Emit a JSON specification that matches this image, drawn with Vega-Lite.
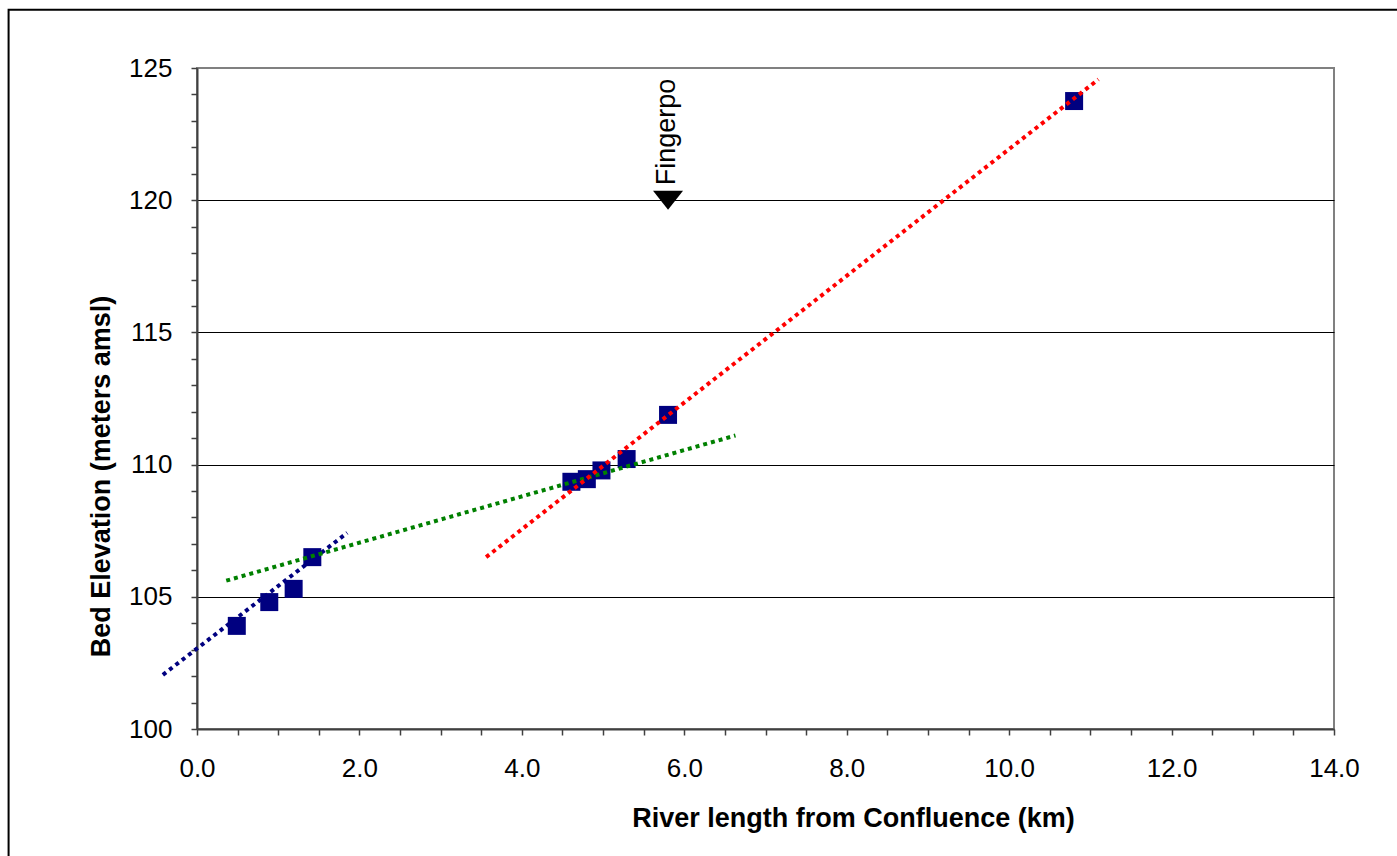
{
  "$schema": "https://vega.github.io/schema/vega-lite/v6.json",
  "width": 1137,
  "height": 661,
  "autosize": "none",
  "padding": {"left": 197, "top": 68, "right": 63, "bottom": 127},
  "background": "white",
  "config": {
    "view": {"stroke": "#808080", "strokeWidth": 2},
    "font": "Liberation Sans"
  },
  "datasets": {
    "points": [
      {"x": 0.49, "y": 103.9},
      {"x": 0.89, "y": 104.8},
      {"x": 1.19, "y": 105.3},
      {"x": 1.42, "y": 106.5},
      {"x": 4.61, "y": 109.35},
      {"x": 4.80, "y": 109.45},
      {"x": 4.98, "y": 109.78},
      {"x": 5.29, "y": 110.21},
      {"x": 5.80, "y": 111.88},
      {"x": 10.80, "y": 123.75}
    ],
    "trends": [
      {"trend": "a", "x": -0.42, "y": 102.05},
      {"trend": "a", "x": 1.85, "y": 107.42},
      {"trend": "b", "x": 0.36, "y": 105.61},
      {"trend": "b", "x": 6.63, "y": 111.10},
      {"trend": "c", "x": 3.56, "y": 106.5},
      {"trend": "c", "x": 11.10, "y": 124.57}
    ],
    "marker": [{"x": 5.8, "y": 120, "label": "Fingerpo"}],
    "frame": [{"x": -2.32, "x2": 20, "y": 127.2, "y2": 90}]
  },
  "encoding": {
    "x": {
      "field": "x",
      "type": "quantitative",
      "scale": {"domain": [0, 14], "nice": false, "zero": false},
      "axis": {
        "title": "River length from Confluence (km)",
        "values": [0, 0.5, 1, 1.5, 2, 2.5, 3, 3.5, 4, 4.5, 5, 5.5, 6, 6.5, 7, 7.5, 8, 8.5, 9, 9.5, 10, 10.5, 11, 11.5, 12, 12.5, 13, 13.5, 14],
        "labelExpr": "datum.value % 2 === 0 ? format(datum.value, '.1f') : ''",
        "grid": false,
        "domainColor": "#404040",
        "domainWidth": 2,
        "tickColor": "#404040",
        "tickWidth": 1.5,
        "tickSize": 6,
        "labelFontSize": 26,
        "labelColor": "black",
        "labelPadding": 20,
        "labelOverlap": false,
        "labelFlush": false,
        "titleFontSize": 27,
        "titleFontWeight": "bold",
        "titleColor": "black",
        "titleX": 656,
        "titleY": 89,
        "titleBaseline": "middle"
      }
    },
    "y": {
      "field": "y",
      "type": "quantitative",
      "scale": {"domain": [100, 125], "nice": false, "zero": false},
      "axis": {
        "title": "Bed Elevation (meters amsl)",
        "values": [100, 101, 102, 103, 104, 105, 106, 107, 108, 109, 110, 111, 112, 113, 114, 115, 116, 117, 118, 119, 120, 121, 122, 123, 124, 125],
        "labelExpr": "datum.value % 5 === 0 ? format(datum.value, 'd') : ''",
        "grid": true,
        "gridColor": "black",
        "gridWidth": 1,
        "gridOpacity": {"condition": {"test": "datum.value % 5 === 0 && datum.value > 100 && datum.value < 125", "value": 1}, "value": 0},
        "domainColor": "#404040",
        "domainWidth": 2,
        "tickColor": "#404040",
        "tickWidth": 1.5,
        "tickSize": 6,
        "labelFontSize": 26,
        "labelColor": "black",
        "labelPadding": 19,
        "labelOverlap": false,
        "labelFlush": false,
        "titleFontSize": 27,
        "titleFontWeight": "bold",
        "titleColor": "black",
        "titleX": -96,
        "titleY": 408,
        "titleBaseline": "middle"
      }
    }
  },
  "layer": [
    {
      "data": {"name": "frame"},
      "mark": {"type": "rect", "filled": false, "stroke": "black", "strokeWidth": 2, "clip": false},
      "encoding": {"x2": {"field": "x2"}, "y2": {"field": "y2"}}
    },
    {
      "data": {"name": "points"},
      "mark": {"type": "point", "shape": "square", "filled": true, "size": 324, "color": "#000080", "opacity": 1}
    },
    {
      "data": {"name": "trends"},
      "mark": {"type": "line", "strokeWidth": 4, "strokeDash": [4, 4], "strokeCap": "butt", "clip": false},
      "encoding": {
        "color": {
          "field": "trend",
          "type": "nominal",
          "scale": {"domain": ["a", "b", "c"], "range": ["#000080", "#008000", "#FF0000"]},
          "legend": null
        }
      }
    },
    {
      "data": {"name": "marker"},
      "mark": {"type": "point", "shape": "M-1,-0.63L1,-0.63L0,0.63Z", "filled": true, "size": 900, "color": "black", "opacity": 1}
    },
    {
      "data": {"name": "marker"},
      "mark": {"type": "text", "angle": 270, "align": "left", "baseline": "alphabetic", "dx": 15, "dy": 7, "fontSize": 27, "color": "black"},
      "encoding": {"text": {"field": "label"}}
    }
  ]
}
